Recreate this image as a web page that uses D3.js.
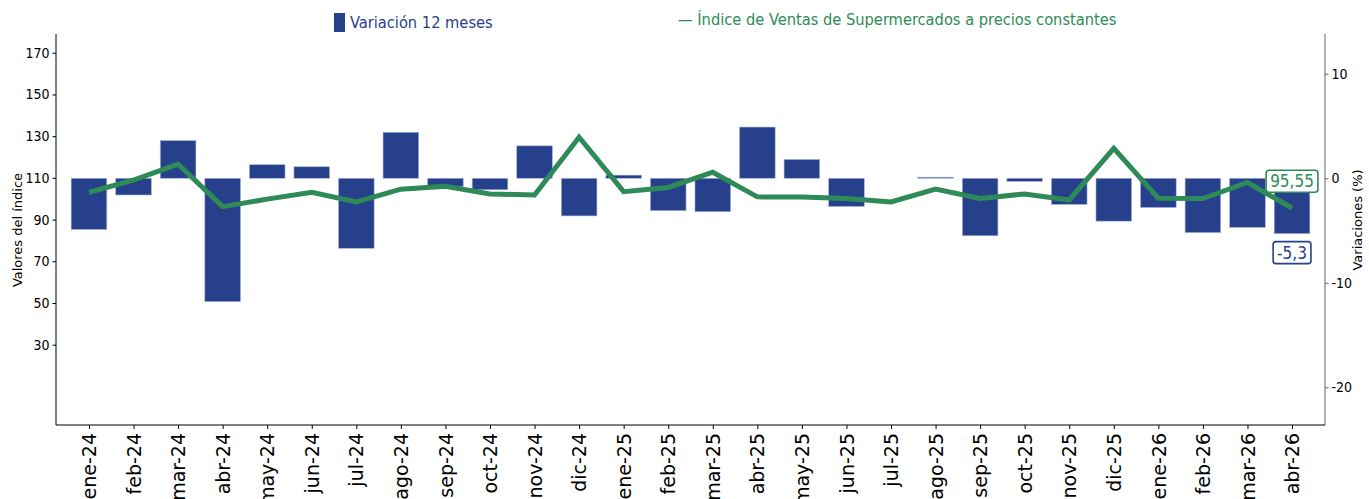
<!DOCTYPE html>
<html>
<head>
<meta charset="utf-8">
<script src="https://cdn.jsdelivr.net/npm/d3@7"></script>
<style>
  body { margin: 0; background: #fff; }
  svg { display: block; }
  .cond { font-family: "DejaVu Sans Condensed", "DejaVu Sans", sans-serif; font-stretch: condensed; }
</style>
</head>
<body>
<svg id="chart" width="1369" height="499"></svg>
<script>
// Month labels
const months = ['ene-24', 'feb-24', 'mar-24', 'abr-24', 'may-24', 'jun-24', 'jul-24',
  'ago-24', 'sep-24', 'oct-24', 'nov-24', 'dic-24', 'ene-25', 'feb-25', 'mar-25',
  'abr-25', 'may-25', 'jun-25', 'jul-25', 'ago-25', 'sep-25', 'oct-25', 'nov-25',
  'dic-25', 'ene-26', 'feb-26', 'mar-26', 'abr-26'];

// 12-month variation (%), right axis
const variation = [-4.9, -1.6, 3.6, -11.8, 1.3, 1.1, -6.7, 4.4, -0.8, -1.1, 3.1,
  -3.6, 0.3, -3.1, -3.2, 4.9, 1.8, -2.7, 0.0, 0.1, -5.5, -0.3, -2.5,
  -4.1, -2.8, -5.2, -4.7, -5.3];

// Index at constant prices, left axis
const indexValues = [103.1, 108.9, 116.6, 96.2, 99.8, 103.1, 98.5, 104.6, 106.0, 102.3, 101.8,
  129.5, 103.4, 105.4, 112.7, 100.9, 100.8, 100.1, 98.5, 104.6, 100.1, 102.3, 99.4,
  124.2, 100.2, 100.1, 107.8, 95.55];

// Tick values
const leftTicks = [30, 50, 70, 90, 110, 130, 150, 170];
const rightTicks = [-20, -10, 0, 10];

const BLUE = '#27408B';
const GREEN = '#2E8B57';

const svg = d3.select('#chart');
const m = { left: 56, right: 1325, top: 34, bottom: 425 };

// hyphen instead of unicode minus, comma decimals
const es = (s) => s.replace('\u2212', '-').replace('.', ',');

// Scales
const x = d3.scalePoint()
  .domain(months)
  .range([m.left, m.right])
  .padding(0.74);
const barW = x.step() * 0.8;

const yL = d3.scaleLinear().domain([-8.5, 179]).range([m.bottom, m.top]);
const yR = d3.scaleLinear().domain([-23.6, 13.8]).range([m.bottom, m.top]);

// Bars (variation)
svg.append('g')
  .selectAll('rect')
  .data(variation)
  .join('rect')
  .attr('x', (d, i) => x(months[i]) - barW / 2)
  .attr('y', (d) => yR(Math.max(0, d)))
  .attr('width', barW)
  .attr('height', (d) => Math.abs(yR(d) - yR(0)))
  .attr('fill', BLUE)
  .attr('stroke', '#a9b5dc')
  .attr('stroke-width', 0.6);

// Index line
const line = d3.line()
  .x((d, i) => x(months[i]))
  .y((d) => yL(d));

svg.append('path')
  .datum(indexValues)
  .attr('d', line)
  .attr('fill', 'none')
  .attr('stroke', GREEN)
  .attr('stroke-width', 5)
  .attr('stroke-linejoin', 'miter');

// Left axis
const gL = svg.append('g')
  .attr('class', 'cond')
  .attr('transform', `translate(${m.left},0)`)
  .call(d3.axisLeft(yL).tickValues(leftTicks).tickSize(3.5).tickPadding(3));
gL.select('.domain').attr('d', `M0,${m.top}V${m.bottom}`).attr('stroke', '#000');
gL.selectAll('text').attr('font-size', 14).attr('fill', '#000');

// Right axis
const gR = svg.append('g')
  .attr('class', 'cond')
  .attr('transform', `translate(${m.right},0)`)
  .call(d3.axisRight(yR).tickValues(rightTicks).tickSize(3.5).tickPadding(3)
    .tickFormat((d) => String(d)));
gR.select('.domain').attr('d', `M0,${m.top}V${m.bottom}`).attr('stroke', '#666');
gR.selectAll('line').attr('stroke', '#666');
gR.selectAll('text').attr('font-size', 14).attr('fill', '#000');

// Bottom axis
const gB = svg.append('g')
  .attr('transform', `translate(0,${m.bottom})`)
  .call(d3.axisBottom(x).tickSize(4).tickPadding(6));
gB.select('.domain').attr('d', `M${m.left},0H${m.right}`).attr('stroke', '#000');
gB.selectAll('text')
  .attr('font-family', 'DejaVu Sans, sans-serif')
  .attr('font-size', 19)
  .attr('fill', '#000')
  .attr('text-anchor', 'end')
  .attr('transform', 'rotate(-90)')
  .attr('x', -8)
  .attr('y', 0)
  .attr('dy', '0.35em');

// Axis titles
svg.append('text')
  .attr('transform', 'translate(22,230) rotate(-90)')
  .attr('text-anchor', 'middle')
  .attr('font-family', 'DejaVu Sans, sans-serif')
  .attr('font-size', 13)
  .text('Valores del índice');

svg.append('text')
  .attr('transform', 'translate(1362,220) rotate(-90)')
  .attr('text-anchor', 'middle')
  .attr('font-family', 'DejaVu Sans, sans-serif')
  .attr('font-size', 13)
  .text('Variaciones (%)');

// Legend
svg.append('rect')
  .attr('x', 334).attr('y', 13).attr('width', 11).attr('height', 19)
  .attr('fill', BLUE);
svg.append('text')
  .attr('class', 'cond')
  .attr('x', 350).attr('y', 28)
  .attr('font-size', 16.3)
  .attr('fill', BLUE)
  .text('Variación 12 meses');

svg.append('text')
  .attr('class', 'cond')
  .attr('x', 678).attr('y', 25)
  .attr('font-size', 16.3)
  .attr('fill', GREEN)
  .text('— Índice de Ventas de Supermercados a precios constantes');

// Last-value labels
const last = months.length - 1;
function boxLabel(text, cx, cy, color) {
  const g = svg.append('g').attr('class', 'cond');
  const t = g.append('text')
    .attr('x', cx).attr('y', cy)
    .attr('text-anchor', 'middle')
    .attr('dy', '0.35em')
    .attr('font-size', 17)
    .attr('fill', color)
    .text(text);
  const b = t.node().getBBox();
  g.insert('rect', 'text')
    .attr('x', b.x - 4).attr('y', b.y - 1)
    .attr('width', b.width + 8).attr('height', b.height + 2)
    .attr('rx', 3)
    .attr('fill', '#fff')
    .attr('stroke', color)
    .attr('stroke-width', 1.6);
}
boxLabel(es(d3.format('.2f')(indexValues[last])), x(months[last]), yR(0) + 3, GREEN);
boxLabel(es(d3.format('.1f')(variation[last])), x(months[last]), yR(variation[last]) + 19, BLUE);
</script>
</body>
</html>
